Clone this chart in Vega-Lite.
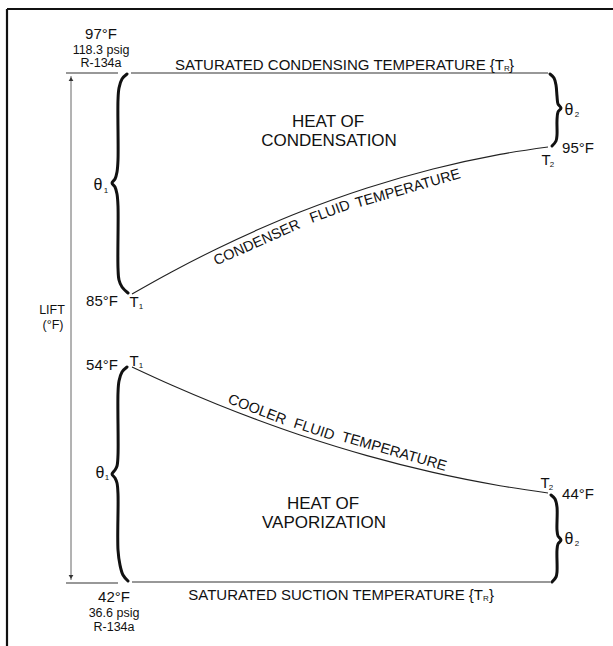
{
  "$schema": "https://vega.github.io/schema/vega-lite/v6.json",
  "width": 613,
  "height": 646,
  "autosize": {"type": "none"},
  "padding": 0,
  "background": "white",
  "config": {"view": {"stroke": null}, "text": {"font": "Liberation Sans", "color": "#111"}},
  "datasets": {
    "paths": [
      {"id": "frameL", "kind": "frame", "o": 0, "x": 7, "y": 9},
      {"id": "frameL", "kind": "frame", "o": 1, "x": 7, "y": 650},
      {"id": "frameT", "kind": "frame", "o": 0, "x": 7, "y": 9},
      {"id": "frameT", "kind": "frame", "o": 1, "x": 620, "y": 9},
      {"id": "topShort", "kind": "thin", "o": 0, "x": 66, "y": 73},
      {"id": "topShort", "kind": "thin", "o": 1, "x": 118, "y": 73},
      {"id": "topMain", "kind": "thin", "o": 0, "x": 131, "y": 73},
      {"id": "topMain", "kind": "thin", "o": 1, "x": 548, "y": 73},
      {"id": "botShort", "kind": "thin", "o": 0, "x": 66, "y": 583},
      {"id": "botShort", "kind": "thin", "o": 1, "x": 118, "y": 583},
      {"id": "botMain", "kind": "thin", "o": 0, "x": 132, "y": 582},
      {"id": "botMain", "kind": "thin", "o": 1, "x": 550, "y": 582},
      {"id": "cond", "kind": "curve", "o": 0, "x": 132, "y": 294},
      {"id": "cond", "kind": "curve", "o": 1, "x": 172, "y": 271.7},
      {"id": "cond", "kind": "curve", "o": 2, "x": 217, "y": 248.7},
      {"id": "cond", "kind": "curve", "o": 3, "x": 257, "y": 230.1},
      {"id": "cond", "kind": "curve", "o": 4, "x": 300, "y": 212},
      {"id": "cond", "kind": "curve", "o": 5, "x": 367, "y": 188},
      {"id": "cond", "kind": "curve", "o": 6, "x": 433, "y": 169},
      {"id": "cond", "kind": "curve", "o": 7, "x": 500, "y": 154.4},
      {"id": "cond", "kind": "curve", "o": 8, "x": 548, "y": 147},
      {"id": "cool", "kind": "curve", "o": 0, "x": 132, "y": 367},
      {"id": "cool", "kind": "curve", "o": 1, "x": 172, "y": 385.3},
      {"id": "cool", "kind": "curve", "o": 2, "x": 217, "y": 404.3},
      {"id": "cool", "kind": "curve", "o": 3, "x": 257, "y": 419.8},
      {"id": "cool", "kind": "curve", "o": 4, "x": 300, "y": 435},
      {"id": "cool", "kind": "curve", "o": 5, "x": 367, "y": 455.6},
      {"id": "cool", "kind": "curve", "o": 6, "x": 433, "y": 472.4},
      {"id": "cool", "kind": "curve", "o": 7, "x": 500, "y": 485.7},
      {"id": "cool", "kind": "curve", "o": 8, "x": 548, "y": 493},
      {"id": "arrow", "kind": "arrow", "o": 0, "x": 71, "y": 76},
      {"id": "arrow", "kind": "arrow", "o": 1, "x": 71, "y": 580},
      {"id": "bL1", "kind": "brace", "o": 0, "x": 127, "y": 74},
      {"id": "bL1", "kind": "brace", "o": 1, "x": 122, "y": 79},
      {"id": "bL1", "kind": "brace", "o": 2, "x": 119, "y": 88},
      {"id": "bL1", "kind": "brace", "o": 3, "x": 118, "y": 100},
      {"id": "bL1", "kind": "brace", "o": 4, "x": 118, "y": 160},
      {"id": "bL1", "kind": "brace", "o": 5, "x": 117, "y": 172},
      {"id": "bL1", "kind": "brace", "o": 6, "x": 115, "y": 179},
      {"id": "bL1", "kind": "brace", "o": 7, "x": 112, "y": 183},
      {"id": "bL1", "kind": "brace", "o": 8, "x": 115, "y": 187},
      {"id": "bL1", "kind": "brace", "o": 9, "x": 117, "y": 194},
      {"id": "bL1", "kind": "brace", "o": 10, "x": 118, "y": 206},
      {"id": "bL1", "kind": "brace", "o": 11, "x": 118, "y": 268},
      {"id": "bL1", "kind": "brace", "o": 12, "x": 119, "y": 280},
      {"id": "bL1", "kind": "brace", "o": 13, "x": 122, "y": 287},
      {"id": "bL1", "kind": "brace", "o": 14, "x": 128, "y": 293},
      {"id": "bL2", "kind": "brace", "o": 0, "x": 127, "y": 367},
      {"id": "bL2", "kind": "brace", "o": 1, "x": 122, "y": 372},
      {"id": "bL2", "kind": "brace", "o": 2, "x": 119, "y": 381},
      {"id": "bL2", "kind": "brace", "o": 3, "x": 118, "y": 393},
      {"id": "bL2", "kind": "brace", "o": 4, "x": 118, "y": 455},
      {"id": "bL2", "kind": "brace", "o": 5, "x": 117, "y": 466},
      {"id": "bL2", "kind": "brace", "o": 6, "x": 115, "y": 470},
      {"id": "bL2", "kind": "brace", "o": 7, "x": 112, "y": 474},
      {"id": "bL2", "kind": "brace", "o": 8, "x": 115, "y": 478},
      {"id": "bL2", "kind": "brace", "o": 9, "x": 117, "y": 483},
      {"id": "bL2", "kind": "brace", "o": 10, "x": 118, "y": 494},
      {"id": "bL2", "kind": "brace", "o": 11, "x": 118, "y": 550},
      {"id": "bL2", "kind": "brace", "o": 12, "x": 120, "y": 565},
      {"id": "bL2", "kind": "brace", "o": 13, "x": 123, "y": 575},
      {"id": "bL2", "kind": "brace", "o": 14, "x": 128, "y": 581},
      {"id": "bR1", "kind": "brace", "o": 0, "x": 550, "y": 74},
      {"id": "bR1", "kind": "brace", "o": 1, "x": 554, "y": 78},
      {"id": "bR1", "kind": "brace", "o": 2, "x": 556, "y": 85},
      {"id": "bR1", "kind": "brace", "o": 3, "x": 557, "y": 96},
      {"id": "bR1", "kind": "brace", "o": 4, "x": 558, "y": 104},
      {"id": "bR1", "kind": "brace", "o": 5, "x": 561, "y": 108},
      {"id": "bR1", "kind": "brace", "o": 6, "x": 558, "y": 112},
      {"id": "bR1", "kind": "brace", "o": 7, "x": 557, "y": 120},
      {"id": "bR1", "kind": "brace", "o": 8, "x": 557, "y": 135},
      {"id": "bR1", "kind": "brace", "o": 9, "x": 556, "y": 141},
      {"id": "bR1", "kind": "brace", "o": 10, "x": 552, "y": 146},
      {"id": "bR2", "kind": "brace", "o": 0, "x": 551, "y": 495},
      {"id": "bR2", "kind": "brace", "o": 1, "x": 555, "y": 499},
      {"id": "bR2", "kind": "brace", "o": 2, "x": 557, "y": 507},
      {"id": "bR2", "kind": "brace", "o": 3, "x": 557, "y": 530},
      {"id": "bR2", "kind": "brace", "o": 4, "x": 558, "y": 536},
      {"id": "bR2", "kind": "brace", "o": 5, "x": 561, "y": 540},
      {"id": "bR2", "kind": "brace", "o": 6, "x": 558, "y": 544},
      {"id": "bR2", "kind": "brace", "o": 7, "x": 557, "y": 550},
      {"id": "bR2", "kind": "brace", "o": 8, "x": 557, "y": 572},
      {"id": "bR2", "kind": "brace", "o": 9, "x": 556, "y": 577},
      {"id": "bR2", "kind": "brace", "o": 10, "x": 552, "y": 582}
    ],
    "heads": [
      {"dir": "up", "x": 71, "y": 79},
      {"dir": "down", "x": 71, "y": 577}
    ],
    "labels": [
      {"g": "t15", "t": "97°F", "x": 101, "y": 34},
      {"g": "t15", "t": "42°F", "x": 114, "y": 597},
      {"g": "t15", "t": "85°F", "x": 102, "y": 301},
      {"g": "t15", "t": "54°F", "x": 102, "y": 365},
      {"g": "t15", "t": "95°F", "x": 578, "y": 148},
      {"g": "t15", "t": "44°F", "x": 578, "y": 494},
      {"g": "t15", "t": "T", "x": 134, "y": 302},
      {"g": "t15", "t": "T", "x": 134, "y": 361},
      {"g": "t15", "t": "T", "x": 546, "y": 160},
      {"g": "t15", "t": "T", "x": 545, "y": 483},
      {"g": "t16", "t": "θ", "x": 98, "y": 185},
      {"g": "t16", "t": "θ", "x": 100, "y": 473},
      {"g": "t16", "t": "θ", "x": 569, "y": 110},
      {"g": "t16", "t": "θ", "x": 569, "y": 539},
      {"g": "t15right", "t": "SATURATED CONDENSING TEMPERATURE  {T", "x": 504, "y": 65},
      {"g": "t15right", "t": "SATURATED SUCTION TEMPERATURE {T", "x": 483, "y": 595},
      {"g": "t15left", "t": "}", "x": 509, "y": 65},
      {"g": "t15left", "t": "}", "x": 489, "y": 595},
      {"g": "sub", "t": "1", "x": 141, "y": 307},
      {"g": "sub", "t": "1", "x": 141, "y": 366},
      {"g": "sub", "t": "2", "x": 552, "y": 165},
      {"g": "sub", "t": "2", "x": 551, "y": 488},
      {"g": "sub", "t": "1", "x": 106, "y": 191},
      {"g": "sub", "t": "1", "x": 107, "y": 478},
      {"g": "sub", "t": "2", "x": 577, "y": 115},
      {"g": "sub", "t": "2", "x": 577, "y": 544},
      {"g": "sub", "t": "R", "x": 507, "y": 69},
      {"g": "sub", "t": "R", "x": 486, "y": 599},
      {"g": "t12", "t": "118.3 psig", "x": 101, "y": 50},
      {"g": "t12", "t": "R-134a", "x": 101, "y": 63},
      {"g": "t12", "t": "36.6 psig", "x": 114, "y": 613},
      {"g": "t12", "t": "R-134a", "x": 114, "y": 627},
      {"g": "t12", "t": "LIFT", "x": 52, "y": 310},
      {"g": "t12", "t": "(°F)", "x": 53, "y": 325},
      {"g": "t17", "t": "HEAT OF", "x": 328, "y": 122},
      {"g": "t17", "t": "CONDENSATION", "x": 329, "y": 141},
      {"g": "t17", "t": "HEAT OF", "x": 323, "y": 504},
      {"g": "t17", "t": "VAPORIZATION", "x": 324, "y": 523},
      {"g": "rot", "t": "CONDENSER", "x": 257, "y": 243, "a": -24},
      {"g": "rot", "t": "FLUID", "x": 330, "y": 212, "a": -20},
      {"g": "rot", "t": "TEMPERATURE", "x": 408, "y": 189, "a": -16},
      {"g": "rot", "t": "COOLER", "x": 257, "y": 410, "a": 21},
      {"g": "rot", "t": "FLUID", "x": 314, "y": 430, "a": 18},
      {"g": "rot", "t": "TEMPERATURE", "x": 394, "y": 452, "a": 16}
    ]
  },
  "encoding": {
    "x": {"field": "x", "type": "quantitative", "scale": {"domain": [0, 613], "nice": false, "zero": false}, "axis": null},
    "y": {"field": "y", "type": "quantitative", "scale": {"domain": [0, 646], "nice": false, "zero": false, "reverse": true}, "axis": null}
  },
  "layer": [
    {
      "data": {"name": "paths"},
      "transform": [{"filter": "datum.kind === 'frame'"}],
      "mark": {"type": "line", "color": "#111", "strokeWidth": 2.2, "clip": false},
      "encoding": {"detail": {"field": "id", "type": "nominal"}, "order": {"field": "o", "type": "quantitative"}}
    },
    {
      "data": {"name": "paths"},
      "transform": [{"filter": "datum.kind === 'thin'"}],
      "mark": {"type": "line", "color": "#333", "strokeWidth": 1.1},
      "encoding": {"detail": {"field": "id", "type": "nominal"}, "order": {"field": "o", "type": "quantitative"}}
    },
    {
      "data": {"name": "paths"},
      "transform": [{"filter": "datum.kind === 'curve'"}],
      "mark": {"type": "line", "color": "#222", "strokeWidth": 1.1, "interpolate": "catmull-rom"},
      "encoding": {"detail": {"field": "id", "type": "nominal"}, "order": {"field": "o", "type": "quantitative"}}
    },
    {
      "data": {"name": "paths"},
      "transform": [{"filter": "datum.kind === 'arrow'"}],
      "mark": {"type": "line", "color": "#666", "strokeWidth": 1},
      "encoding": {"detail": {"field": "id", "type": "nominal"}, "order": {"field": "o", "type": "quantitative"}}
    },
    {
      "data": {"name": "paths"},
      "transform": [{"filter": "datum.kind === 'brace'"}],
      "mark": {"type": "line", "color": "#111", "strokeWidth": 3, "interpolate": "catmull-rom", "strokeCap": "round", "strokeJoin": "round"},
      "encoding": {"detail": {"field": "id", "type": "nominal"}, "order": {"field": "o", "type": "quantitative"}}
    },
    {
      "data": {"name": "heads"},
      "mark": {"type": "point", "filled": true, "color": "#333", "size": 22, "opacity": 1},
      "encoding": {"shape": {"field": "dir", "type": "nominal", "scale": {"domain": ["up", "down"], "range": ["triangle-up", "triangle-down"]}, "legend": null}}
    },
    {
      "data": {"name": "labels"},
      "transform": [{"filter": "datum.g === 't15'"}],
      "mark": {"type": "text", "fontSize": 15, "baseline": "middle", "align": "center"},
      "encoding": {"text": {"field": "t", "type": "nominal"}}
    },
    {
      "data": {"name": "labels"},
      "transform": [{"filter": "datum.g === 't16'"}],
      "mark": {"type": "text", "fontSize": 16, "baseline": "middle", "align": "center"},
      "encoding": {"text": {"field": "t", "type": "nominal"}}
    },
    {
      "data": {"name": "labels"},
      "transform": [{"filter": "datum.g === 't15right'"}],
      "mark": {"type": "text", "fontSize": 15, "baseline": "middle", "align": "right"},
      "encoding": {"text": {"field": "t", "type": "nominal"}}
    },
    {
      "data": {"name": "labels"},
      "transform": [{"filter": "datum.g === 't15left'"}],
      "mark": {"type": "text", "fontSize": 15, "baseline": "middle", "align": "left"},
      "encoding": {"text": {"field": "t", "type": "nominal"}}
    },
    {
      "data": {"name": "labels"},
      "transform": [{"filter": "datum.g === 'sub'"}],
      "mark": {"type": "text", "fontSize": 8, "baseline": "middle", "align": "center"},
      "encoding": {"text": {"field": "t", "type": "nominal"}}
    },
    {
      "data": {"name": "labels"},
      "transform": [{"filter": "datum.g === 't12'"}],
      "mark": {"type": "text", "fontSize": 12.5, "baseline": "middle", "align": "center"},
      "encoding": {"text": {"field": "t", "type": "nominal"}}
    },
    {
      "data": {"name": "labels"},
      "transform": [{"filter": "datum.g === 't17'"}],
      "mark": {"type": "text", "fontSize": 17, "baseline": "middle", "align": "center"},
      "encoding": {"text": {"field": "t", "type": "nominal"}}
    },
    {
      "data": {"name": "labels"},
      "transform": [{"filter": "datum.g === 'rot'"}],
      "mark": {"type": "text", "fontSize": 14.5, "baseline": "middle", "align": "center"},
      "encoding": {"text": {"field": "t", "type": "nominal"}, "angle": {"field": "a", "type": "quantitative", "scale": null}}
    }
  ]
}
